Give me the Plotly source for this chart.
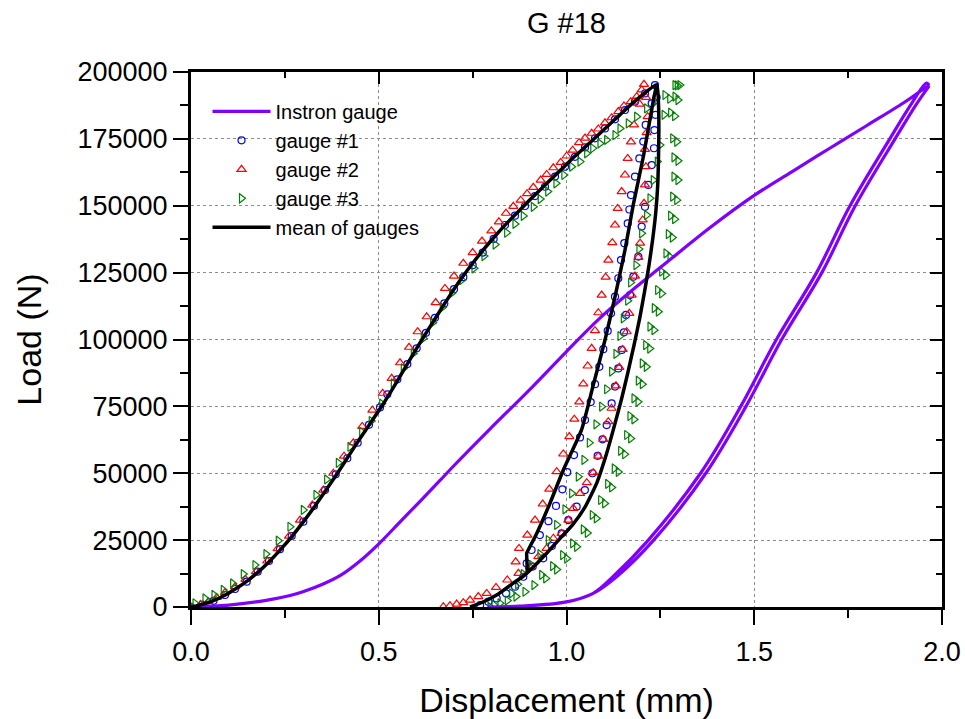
import plotly.graph_objects as go

# ---------------- data ----------------
# Instron gauge: loading, unloading, reloading
instron_x = [0.000, 0.100, 0.200, 0.264, 0.300, 0.352, 0.400, 0.450, 0.503, 0.560, 0.610, 0.663, 0.700,
             0.796, 0.900, 1.000, 1.089, 1.200, 1.300, 1.380, 1.497, 1.600, 1.700, 1.800, 1.897,
             1.930, 1.964,
             1.958, 1.918, 1.861, 1.755, 1.666, 1.559, 1.464, 1.357, 1.218, 1.125, 1.071, 1.000,
             0.876, 0.790,
             0.876, 1.000, 1.071, 1.135, 1.232, 1.371, 1.478, 1.573, 1.680, 1.769, 1.875, 1.932,
             1.966]
instron_y = [0, 700, 2500, 4300, 5800, 8600, 12000, 17200, 24000, 32300, 39500, 47300, 52800,
             66500, 81000, 95500, 108000, 121300, 132600, 141600, 153600, 162700, 171400, 180000, 188400,
             191600, 195300,
             195800, 188000, 175000, 150000, 125000, 100000, 75000, 50000, 25000, 11500, 5100, 1900,
             300, 0,
             300, 1900, 5100, 11500, 25000, 50000, 75000, 100000, 125000, 150000, 175000, 188000,
             194800]

# gauge #1 : loading, unloading, reloading
g1_x = [0.000, 0.030, 0.060, 0.0905, 0.1172, 0.1483, 0.1776, 0.2077, 0.2370, 0.2681, 0.2991, 0.3276,
        0.3569, 0.3853, 0.4163, 0.4439, 0.4740, 0.5033, 0.5228, 0.5495, 0.5761, 0.6010, 0.6258, 0.6498,
        0.6746, 0.7004, 0.7252, 0.7501, 0.7770, 0.8060, 0.8362, 0.8628, 0.8895, 0.9161, 0.9427, 0.9694,
        0.9960, 1.0226, 1.0493, 1.0759, 1.1025, 1.1292, 1.1558, 1.1824, 1.2090, 1.2357,
        1.2400, 1.2370, 1.2340, 1.2330, 1.2269, 1.2180, 1.2090, 1.2002, 1.1913, 1.1780, 1.1691, 1.1585,
        1.1530, 1.1470, 1.1380, 1.1292, 1.1203, 1.1070, 1.0960, 1.0830, 1.0690, 1.0490, 1.0270, 1.0050,
        0.9870, 0.9610, 0.9380, 0.9100, 0.8850, 0.8630, 0.8390, 0.8140, 0.7920, 0.7700,
        0.8940, 0.9070, 0.9290, 0.9520, 0.9720, 0.9890, 1.0020, 1.0200, 1.0360, 1.0493, 1.0644, 1.0759,
        1.0874, 1.0980, 1.1097, 1.1185, 1.1292, 1.1380, 1.1451, 1.1540, 1.1630, 1.1675, 1.1718, 1.1824,
        1.1940, 1.2045, 1.2109, 1.2269]
g1_y = [0, 900, 2300, 4490, 6730, 9470, 13200, 17200, 21600, 26500, 31900, 37800,
        43700, 49600, 55600, 61400, 68100, 74600, 79500, 85100, 90800, 96700, 102500, 108100,
        113500, 118800, 123300, 127800, 132500, 137600, 142800, 146300, 149900, 153600, 157100, 160900,
        164600, 168300, 171800, 175200, 178900, 182300, 185800, 188900, 192000, 195100,
        190500, 184000, 178300, 171500, 165200, 157800, 149600, 142200, 131000, 123500, 116600, 109200,
        102700, 96100, 89200, 82400, 76100, 68000, 62700, 56500, 50000, 43700, 37500, 32500,
        27500, 22800, 18200, 15100, 11300, 7600, 5100, 3200, 2000, 750,
        16300, 21300, 26900, 32100, 37800, 44000, 50400, 56800, 63400, 69900, 76600, 83300,
        89800, 96400, 103200, 109800, 116000, 122900, 129700, 136000, 143400, 148600, 154000, 160900,
        167700, 174000, 180200, 188300]

# gauge #2 : loading, unloading, reloading
g2_x = [0.000, 0.025, 0.0461, 0.0684, 0.0905, 0.1172, 0.1450, 0.1731, 0.2033, 0.2308, 0.2610, 0.2903,
        0.3231, 0.3524, 0.3790, 0.4075, 0.4323, 0.4560, 0.4830, 0.5105, 0.5344, 0.5566, 0.5806, 0.6037,
        0.6276, 0.6516, 0.6764, 0.7004, 0.7252, 0.7501, 0.7750, 0.8000, 0.8200, 0.8389, 0.8584, 0.8780,
        0.8950, 0.9116, 0.9313, 0.9472, 0.9649, 0.9845, 1.0005, 1.0164, 1.0333, 1.0493, 1.0670, 1.0847,
        1.1025, 1.1203, 1.1380, 1.1531, 1.1710, 1.1870, 1.2002, 1.2064,
        1.1950, 1.1798, 1.1718, 1.1630, 1.1558, 1.1470, 1.1363, 1.1292, 1.1220, 1.1114, 1.1043, 1.0937,
        1.0847, 1.0759, 1.0670, 1.0564, 1.0448, 1.0341, 1.0208, 1.0075, 0.9915, 0.9739, 0.9542, 0.9366,
        0.9161, 0.8957, 0.8735, 0.8647, 0.8424, 0.8123, 0.7875, 0.7652, 0.7430, 0.7252, 0.7075, 0.6897,
        0.6720,
        0.8720, 0.9030, 0.9250, 0.9470, 0.9650, 0.9870, 1.0050, 1.0180, 1.0360, 1.0540, 1.0714, 1.0847,
        1.0980, 1.1114, 1.1200, 1.1318, 1.1407, 1.1496, 1.1603, 1.1673, 1.1736, 1.1824, 1.1913, 1.1960,
        1.2029, 1.2064, 1.2090, 1.2117, 1.2090, 1.2135, 1.2162, 1.2120]
g2_y = [0, 900, 2000, 3600, 5400, 7600, 10300, 13200, 17200, 21800, 26500, 32500,
        38100, 43700, 50000, 56400, 61400, 67500, 73600, 79900, 85500, 91300, 97100, 102900,
        108500, 113800, 119100, 123700, 128500, 132500, 136800, 140600, 144000, 147200, 149800, 152100,
        154500, 156900, 159600, 161700, 164200, 166200, 168600, 170800, 173600, 175300, 177100, 178700,
        181000, 182900, 185200, 187300, 188900, 190800, 193300, 195400,
        188000, 180200, 173900, 167700, 161500, 155300, 149000, 142800, 136200, 129700, 123300, 116600,
        110000, 103300, 96700, 90100, 83400, 76700, 70200, 63700, 57200, 50600, 44100, 38500,
        32500, 26900, 21900, 16900, 10100, 7300, 5100, 3900, 2600, 1600, 1100, 500,
        100,
        12600, 15100, 18800, 21900, 25700, 27500, 32500, 36900, 42500, 46500, 50200, 56400,
        62700, 69300, 74300, 82700, 89600, 96300, 102900, 109800, 116600, 123700, 130700, 136000,
        144700, 150900, 157800, 164600, 171100, 177300, 183300, 190500]

# gauge #3 : loading, unloading, reloading, second unloading
g3_x = [0.0000, 0.0107, 0.0373, 0.0613, 0.0860, 0.1110, 0.1393, 0.1704, 0.1997, 0.2325, 0.2636, 0.2991,
        0.3329, 0.3613, 0.3924, 0.4234, 0.4546, 0.4800, 0.5078, 0.5388, 0.5654, 0.5920, 0.6187, 0.6436,
        0.6693, 0.6942, 0.7209, 0.7537, 0.7803, 0.8100, 0.8407, 0.8628, 0.8850, 0.9116, 0.9300, 0.9500,
        0.9720, 0.9930, 1.0138, 1.0360, 1.0538, 1.0700, 1.0892, 1.1070, 1.1292, 1.1425, 1.1646, 1.1870,
        1.2135, 1.2357, 1.2623, 1.2890, 1.3020,
        1.2890, 1.2774, 1.2829, 1.2863, 1.2863, 1.2829, 1.2774, 1.2712, 1.2650, 1.2535, 1.2428, 1.2339,
        1.2224, 1.2110, 1.2019, 1.1913, 1.1798, 1.1691, 1.1603, 1.1443, 1.1273, 1.1097, 1.0910, 1.0688,
        1.0448, 1.0164, 0.9899, 0.9632, 0.9340, 0.9134, 0.8895, 0.8655, 0.8424, 0.8229, 0.8069, 0.7963,
        0.8540, 0.8700, 0.8850, 0.9073, 0.9294, 0.9516, 0.9739, 0.9960, 1.0138, 1.0315, 1.0466, 1.0608,
        1.0786, 1.0937, 1.1070, 1.1203, 1.1318, 1.1425, 1.1513, 1.1630, 1.1709, 1.1851, 1.1930, 1.2002,
        1.2135, 1.2224, 1.2312, 1.2419, 1.2490, 1.2600, 1.2750, 1.2950,
        1.2970, 1.2881, 1.2936, 1.2970, 1.2970, 1.2936, 1.2881, 1.2819, 1.2757, 1.2642, 1.2535, 1.2446,
        1.2331, 1.2217, 1.2126, 1.2020, 1.1905, 1.1798, 1.1710, 1.1550, 1.1380, 1.1204, 1.1017, 1.0795,
        1.0555, 1.0271, 1.0006, 0.9739, 0.9447]
g3_y = [0, 1400, 3200, 4500, 6400, 8800, 12300, 15700, 19800, 24800, 30000, 36300,
        41900, 47700, 53900, 59900, 65500, 69500, 76000, 83600, 89200, 94800, 100400, 106300,
        112000, 117300, 122200, 126600, 131200, 135500, 139900, 143200, 146200, 149600, 152500, 155300,
        158400, 161500, 164600, 166500, 169600, 171500, 173300, 174600, 176400, 178900, 180800, 183300,
        186400, 188900, 191400, 195100, 195100,
        190800, 184800, 175200, 168100, 160900, 153400, 146300, 139400, 132200, 125400, 118500, 111700,
        104800, 97900, 91100, 84600, 78000, 71400, 64300, 58400, 51800, 46000, 40000, 34400,
        29000, 23800, 19400, 15300, 12000, 8200, 5700, 3900, 2400, 1400, 750, 100,
        5100, 8500, 12300, 15700, 19800, 25000, 30700, 36500, 42500, 48700, 55000, 61400,
        68300, 74900, 81400, 88000, 94600, 101300, 107900, 114500, 121300, 127800, 133800, 139700,
        146500, 152800, 159600, 166500, 172700, 184000, 190000, 195000,
        189500, 183500, 173900, 166800, 159600, 152100, 145000, 138100, 130900, 124100, 117200, 110400,
        103500, 96600, 89800, 83300, 76700, 70100, 63000, 57100, 50500, 44700, 38700, 33100,
        27700, 22500, 18100, 14000, 10700]

# mean of gauges : loading, unloading, reloading
mean_x = [0.00, 0.03, 0.06, 0.09, 0.12, 0.15, 0.18, 0.21, 0.24, 0.27, 0.30, 0.33, 0.36, 0.39, 0.42,
          0.45, 0.48, 0.51, 0.54, 0.57, 0.60, 0.63, 0.66, 0.69, 0.72, 0.75, 0.78, 0.81, 0.84, 0.87,
          0.90, 0.93, 0.96, 0.99, 1.02, 1.05, 1.08, 1.11, 1.14, 1.17, 1.20, 1.240,
          1.245, 1.246, 1.245, 1.243, 1.238, 1.230, 1.220, 1.208, 1.195, 1.180, 1.164, 1.147, 1.128,
          1.106, 1.081, 1.050, 1.015, 0.980, 0.947, 0.915, 0.890, 0.858, 0.814, 0.770, 0.743,
          0.770, 0.814, 0.858, 0.894, 0.894, 0.898, 0.9206, 0.956, 0.9915, 1.040, 1.070, 1.1025,
          1.130, 1.1558, 1.178, 1.205, 1.231, 1.240]
mean_y = [0, 1000, 2400, 4400, 6900, 9800, 13200, 17200, 21700, 26600, 32000, 37700, 43800, 50000, 56500,
          63000, 69200, 75500, 82300, 89400, 96500, 103300, 110000, 116600, 122800, 128500, 133800, 138700,
          143300, 147600, 151900, 156000, 160100, 164100, 168200, 172000, 175900, 179800, 183700, 187600,
          191200, 195300,
          188000, 178000, 168000, 158000, 148000, 138000, 128000, 118000, 108000, 98000, 88000, 78000, 68000,
          57000, 46500, 37500, 30500, 25200, 20100, 15400, 12100, 8900, 4500, 1400, 0,
          1400, 4500, 8900, 12600, 20100, 21300, 27500, 38800, 51200, 66200, 82300, 99800,
          116500, 133500, 150500, 168600, 189200, 195300]

x_ticks = [0.0, 0.5, 1.0, 1.5, 2.0]
y_ticks = [0, 25000, 50000, 75000, 100000, 125000, 150000, 175000, 200000]

FONT = "Arial, 'Liberation Sans', sans-serif"

fig = go.Figure()

fig.add_trace(go.Scatter(x=g1_x, y=g1_y, mode="markers", name="gauge #1", legendrank=2,
                         marker=dict(symbol="circle-open", size=7, color="#0000FF", line=dict(width=1.2))))
fig.add_trace(go.Scatter(x=g2_x, y=g2_y, mode="markers", name="gauge #2", legendrank=3,
                         marker=dict(symbol="triangle-up-open", size=8, color="#FF0000", line=dict(width=1.2))))
fig.add_trace(go.Scatter(x=g3_x, y=g3_y, mode="markers", name="gauge #3", legendrank=4,
                         marker=dict(symbol="triangle-right-open", size=8, color="#008000", line=dict(width=1.2))))
fig.add_trace(go.Scatter(x=instron_x, y=instron_y, mode="lines", name="Instron gauge", legendrank=1,
                         line=dict(color="#7F00FF", width=3.2, shape="spline", smoothing=1.0)))
fig.add_trace(go.Scatter(x=mean_x, y=mean_y, mode="lines", name="mean of gauges", legendrank=5,
                         line=dict(color="#000000", width=3.5, shape="spline", smoothing=0.5)))
# carrier for the mirrored top/right axes
fig.add_trace(go.Scatter(x=[None], y=[None], xaxis="x2", yaxis="y2", showlegend=False,
                         hoverinfo="skip", mode="markers"))

axis_common = dict(showline=True, linewidth=3, linecolor="black", mirror=False, zeroline=False,
                   tickcolor="black", tickwidth=2, tickfont=dict(family=FONT, size=27, color="black"))

fig.update_layout(
    width=965, height=719,
    margin=dict(l=191, r=23, t=72, b=112, autoexpand=False),
    paper_bgcolor="white", plot_bgcolor="white",
    font=dict(family=FONT, color="black"),
    hovermode=False,
    title=dict(text="G #18", x=0.5, xref="paper", xanchor="center", y=0.968, yref="container",
               yanchor="middle", font=dict(family=FONT, size=29, color="black")),
    xaxis=dict(range=[0, 2.0], tickvals=x_ticks, tickformat=".1f", ticks="outside", ticklen=15,
               showgrid=True, gridcolor="#8c8c8c", griddash="dot", gridwidth=1,
               minor=dict(dtick=0.25, tick0=0, ticks="outside", ticklen=8, tickwidth=2, tickcolor="black",
                          showgrid=False),
               title=dict(text="Displacement (mm)", font=dict(family=FONT, size=34, color="black"), standoff=22),
               ticklabelstandoff=4,
               **axis_common),
    yaxis=dict(range=[0, 200000], tickvals=y_ticks, tickformat="d", ticks="outside", ticklen=15,
               showgrid=True, gridcolor="#8c8c8c", griddash="dot", gridwidth=1,
               minor=dict(dtick=12500, tick0=0, ticks="outside", ticklen=8, tickwidth=2, tickcolor="black",
                          showgrid=False),
               title=dict(text="Load (N)", font=dict(family=FONT, size=34, color="black"), standoff=26),
               ticklabelstandoff=0,
               **axis_common),
    xaxis2=dict(range=[0, 2.0], overlaying="x", side="top", anchor="y2", tickvals=x_ticks,
                showticklabels=False, ticks="inside", ticklen=12, showgrid=False,
                minor=dict(dtick=0.25, tick0=0, ticks="inside", ticklen=6, tickwidth=2, tickcolor="black",
                           showgrid=False),
                **axis_common),
    yaxis2=dict(range=[0, 200000], overlaying="y", side="right", anchor="x2", tickvals=y_ticks,
                showticklabels=False, ticks="inside", ticklen=12, showgrid=False,
                minor=dict(dtick=12500, tick0=0, ticks="inside", ticklen=6, tickwidth=2, tickcolor="black",
                           showgrid=False),
                **axis_common),
    legend=dict(x=0.022, y=0.963, xanchor="left", yanchor="top", bgcolor="rgba(0,0,0,0)",
                borderwidth=0, font=dict(family=FONT, size=20, color="black"), tracegroupgap=0,
                itemwidth=58),
)

fig.write_html("out.html")
